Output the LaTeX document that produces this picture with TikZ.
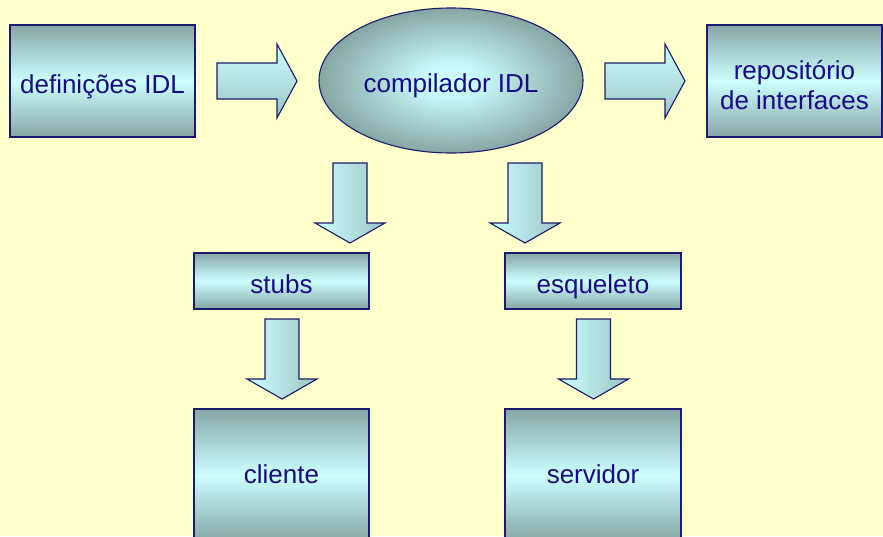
\documentclass[tikz,border=0pt]{standalone}
\usepackage{fontspec}
\setmainfont{Liberation Sans}
\usetikzlibrary{shapes.geometric}
\definecolor{bg}{HTML}{FFFFCC}
\definecolor{edge}{HTML}{1A1A6E}
\definecolor{txt}{HTML}{1A0A85}
\definecolor{lite}{HTML}{CCFFFF}
\definecolor{dark}{HTML}{86A6A4}
\definecolor{dark2}{HTML}{9CC4C4}
\pgfdeclareradialshading{ellsh}{\pgfpoint{0bp}{0bp}}{color(0bp)=(lite); color(6bp)=(lite!92!dark); color(25bp)=(dark); color(50bp)=(dark)}
\tikzset{
  txtsty/.style={text=txt, font=\fontsize{26}{30}\selectfont, text height=24.5pt, text depth=0.5pt},
  box/.style={draw=edge, line width=1.1pt, top color=dark, bottom color=dark, middle color=lite,
    inner sep=0pt, align=center, txtsty},
  blob/.style={ellipse, draw=edge, line width=1.1pt, shading=ellsh,
    inner sep=0pt, txtsty},
  barrow/.style={draw=edge, line width=1.1pt, line join=miter},
  darrow/.pic={\path[barrow, left color=lite, right color=dark2]
     (-17,0) -- (17,0) -- (17,60) -- (35,60) -- (0,80) -- (-35,60) -- (-17,60) -- cycle;},
  rarrow/.pic={\path[barrow, top color=lite, bottom color=dark2]
     (0,-18) -- (60,-18) -- (60,-37) -- (80,0) -- (60,37) -- (60,18) -- (0,18) -- cycle;}
}
\begin{document}
\begin{tikzpicture}[x=1pt, y=-1pt]
\useasboundingbox (0,0) rectangle (883,536);
\fill[bg] (0,0) rectangle (883,536);
\clip (0,0) rectangle (883,536);
\node[box, minimum width=185pt, minimum height=112pt] (def) at (102.5,81) {defini\c{c}\~oes IDL};
\node[blob, minimum width=264pt, minimum height=145pt] (comp) at (451,80.5) {compilador IDL};
\node[box, minimum width=175pt, minimum height=112pt,
  label={[text=txt, font=\fontsize{26}{30}\selectfont, align=center, yshift=-4pt]center:reposit\'orio\\de interfaces}] (rep) at (794.5,81) {};
\node[box, minimum width=175pt, minimum height=56pt] (stubs) at (281.5,281) {stubs};
\node[box, minimum width=176pt, minimum height=56pt] (esq) at (593,281) {esqueleto};
\node[box, minimum width=175pt, minimum height=132pt, text depth=8.5pt] (cli) at (281.5,475) {cliente};
\node[box, minimum width=176pt, minimum height=132pt, text depth=8.5pt] (serv) at (593,475) {servidor};
\pic (a1) at (217,81) {rarrow};
\pic (a2) at (605,81) {rarrow};
\pic (a3) at (350,163) {darrow};
\pic (a4) at (525,163) {darrow};
\pic (a5) at (282,319) {darrow};
\pic (a6) at (593.5,319) {darrow};
\end{tikzpicture}
\end{document}
